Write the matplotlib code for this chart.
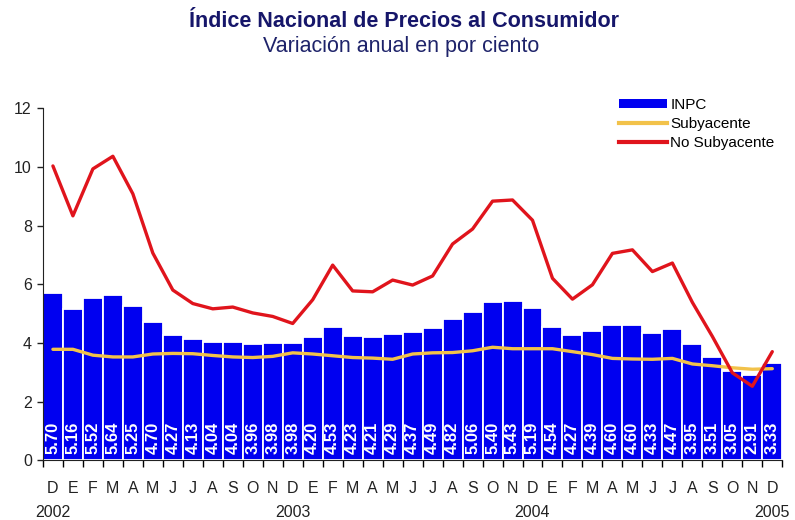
import numpy as np
import matplotlib.pyplot as plt
from matplotlib.patches import Patch
from matplotlib.lines import Line2D

plt.rcParams['font.family'] = ['Liberation Sans', 'DejaVu Sans']

# Monthly data, Dec 2002 - Dec 2005
months = ['D'] + ['E', 'F', 'M', 'A', 'M', 'J', 'J', 'A', 'S', 'O', 'N', 'D'] * 3
years = {0: '2002', 12: '2003', 24: '2004', 36: '2005'}

inpc = [5.70, 5.16, 5.52, 5.64, 5.25, 4.70, 4.27, 4.13, 4.04, 4.04, 3.96, 3.98,
        3.98, 4.20, 4.53, 4.23, 4.21, 4.29, 4.37, 4.49, 4.82, 5.06, 5.40, 5.43,
        5.19, 4.54, 4.27, 4.39, 4.60, 4.60, 4.33, 4.47, 3.95, 3.51, 3.05, 2.91,
        3.33]
subyacente = [3.78, 3.78, 3.58, 3.52, 3.52, 3.62, 3.64, 3.63, 3.57, 3.52, 3.50, 3.54,
              3.66, 3.62, 3.56, 3.50, 3.48, 3.44, 3.62, 3.66, 3.67, 3.73, 3.85, 3.80,
              3.80, 3.80, 3.70, 3.60, 3.47, 3.45, 3.44, 3.47, 3.28, 3.22, 3.15, 3.10,
              3.12]
no_subyacente = [10.03, 8.33, 9.93, 10.36, 9.08, 7.06, 5.80, 5.34, 5.16, 5.22, 5.02, 4.90,
                 4.66, 5.47, 6.65, 5.77, 5.74, 6.14, 5.97, 6.28, 7.37, 7.88, 8.83, 8.87,
                 8.18, 6.20, 5.49, 5.98, 7.05, 7.17, 6.43, 6.72, 5.38, 4.22, 2.98, 2.52,
                 3.70]

x = np.arange(len(inpc))

fig = plt.figure(figsize=(7.95, 5.2), dpi=100)
ax = fig.add_axes([0.054, 0.115, 0.93, 0.677])

ax.bar(x, inpc, width=1.0, color='#0000F0', edgecolor='white', linewidth=1.3, zorder=2)
ax.plot(x, subyacente, color='#F2C24A', lw=2.4, zorder=3, solid_capstyle='round')
ax.plot(x, no_subyacente, color='#E0141C', lw=2.4, zorder=4, solid_capstyle='round')

# values written inside the bars
for xi, v in zip(x, inpc):
    ax.text(xi, 0.22, f'{v:.2f}', rotation=90, ha='center', va='bottom',
            color='white', fontsize=12, fontweight='bold', zorder=5)

ax.set_xlim(-0.5, len(inpc) - 0.5)
ax.set_ylim(0, 12)
ax.set_yticks(range(0, 13, 2))
ax.tick_params(axis='y', labelsize=11.5, length=4, width=1, pad=4, colors='#222222')

# month letters as labels, tick marks at the bar edges
ax.set_xticks(x)
ax.set_xticklabels(months, fontsize=11.5, color='#222222')
ax.tick_params(axis='x', length=0, pad=15)
ax.set_xticks(np.arange(-0.5, len(inpc)), minor=True)
ax.tick_params(axis='x', which='minor', length=5, width=1, direction='out')

for i, yr in years.items():
    ax.text(i, -1.78, yr, ha='center', va='center', fontsize=11.5, color='#222222')

for s in ['top', 'right']:
    ax.spines[s].set_visible(False)
ax.spines['left'].set_color('#222222')
ax.spines['bottom'].set_color('#222222')

fig.text(0.508, 0.958, 'Índice Nacional de Precios al Consumidor', ha='center', va='center',
         fontsize=15.5, fontweight='bold', color='#16166A')
fig.text(0.505, 0.910, 'Variación anual en por ciento', ha='center', va='center',
         fontsize=15.5, color='#1E236A')

handles = [Patch(facecolor='#0000F0', edgecolor='none'),
           Line2D([], [], color='#F2C24A', lw=3),
           Line2D([], [], color='#E0141C', lw=3)]
fig.legend(handles, ['INPC', 'Subyacente', 'No Subyacente'], loc='upper left',
           bbox_to_anchor=(0.778, 0.812), frameon=False, fontsize=11,
           handlelength=3.2, handleheight=0.55, handletextpad=0.2,
           labelspacing=0.32, borderpad=0, borderaxespad=0)

fig.savefig('out.png', dpi=100)
